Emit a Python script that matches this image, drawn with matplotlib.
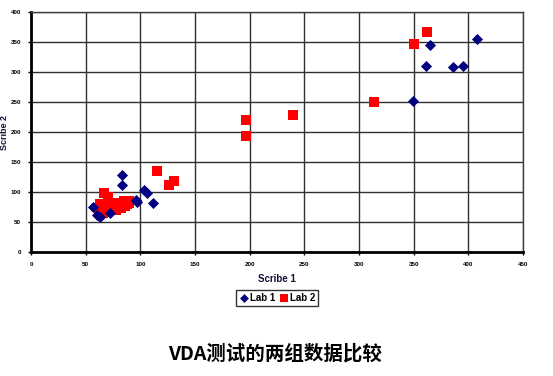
import matplotlib
matplotlib.use("Agg")
import matplotlib.pyplot as plt

lab1_x = [408, 365, 361, 386, 395, 349, 83, 83, 103, 106, 112, 97, 96, 57, 60, 63, 72]
lab1_y = [355, 345, 310, 308, 310, 251, 128, 111, 103, 98, 81, 84, 87, 75, 62, 58, 65]

lab2_x = [362, 350, 314, 240, 197, 197, 115, 131, 126,
          67, 70, 63, 65, 68, 72, 75, 78, 80, 83, 85, 88, 90, 70, 62, 66, 74, 78, 82, 86, 85, 90]
lab2_y = [367, 347, 250, 228, 220, 193, 135, 118, 112,
          98, 92, 80, 72, 70, 75, 80, 82, 78, 80, 82, 80, 82, 68, 67, 65, 72, 70, 74, 76, 85, 85]

x_ticks = [0, 50, 100, 150, 200, 250, 300, 350, 400, 450]
y_ticks = [0, 50, 100, 150, 200, 250, 300, 350, 400]

plt.rcParams['font.family'] = ['Liberation Sans', 'DejaVu Sans']

fig = plt.figure(figsize=(5.53, 3.76), dpi=100)
ax = fig.add_axes([31/553, (376-252)/376, 492/553, 240/376])

ax.set_xlim(0, 450)
ax.set_ylim(0, 400)
ax.set_xticks(x_ticks)
ax.set_yticks(y_ticks)
ax.grid(True, color='#303030', linewidth=1.0)
ax.set_axisbelow(True)

for s in ['top', 'right']:
    ax.spines[s].set_color('#404040')
    ax.spines[s].set_linewidth(1.0)
for s in ['left', 'bottom']:
    ax.spines[s].set_color('black')
    ax.spines[s].set_linewidth(2.0)

ax.tick_params(axis='both', labelsize=4.5, length=2, width=1)
ax.tick_params(axis='y', pad=5)
ax.tick_params(axis='x', pad=5)
for lbl in ax.get_xticklabels() + ax.get_yticklabels():
    lbl.set_fontweight('bold')

ax.scatter(lab2_x, lab2_y, marker='s', s=55, color='#FF0000', label='Lab 2', zorder=3, linewidths=0)
ax.scatter(lab1_x, lab1_y, marker='D', s=32, color='#000080', label='Lab 1', zorder=4, linewidths=0)

ax.set_xlabel('Scribe 1', fontsize=7, fontweight='bold', color='#10103a', labelpad=5)
ax.set_ylabel('Scribe 2', fontsize=6.5, fontweight='bold', color='#10103a')
ax.yaxis.set_label_coords(-0.045, 0.5)

handles, labels = ax.get_legend_handles_labels()
leg = fig.legend(handles[::-1], labels[::-1], loc='center', bbox_to_anchor=(277/553, 1-298/376),
                 ncol=2, frameon=True, fancybox=False, edgecolor='black',
                 handletextpad=0.1, columnspacing=0.4, borderpad=0.3, handlelength=1.0,
                 markerscale=0.8, prop={'weight': 'bold', 'size': 7})
leg.get_frame().set_linewidth(1.0)

fig.text(275/553, 1-354/376, 'VDA测试的两组数据比较', ha='center', va='center', fontsize=14,
         fontweight='bold', family=['Noto Sans CJK SC', 'DejaVu Sans'])

fig.savefig('out.png', dpi=100)
